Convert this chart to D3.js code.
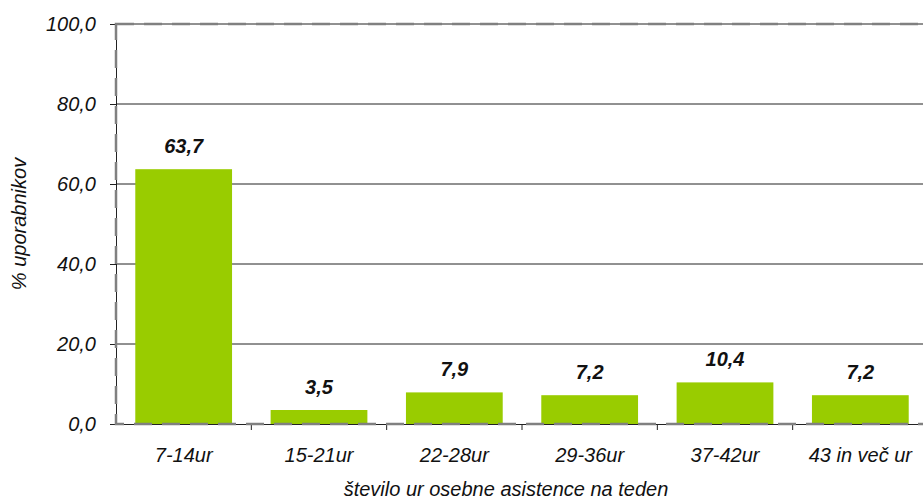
<!DOCTYPE html>
<html>
<head>
<meta charset="utf-8">
<script src="https://cdn.jsdelivr.net/npm/d3@7"></script>
<style>
  html, body { margin: 0; padding: 0; background: #fff; }
  svg { display: block; font-family: "Liberation Sans", Arial, sans-serif; }
</style>
</head>
<body>
<svg id="chart" width="923" height="502"></svg>
<script>
// Weekly hours of personal assistance, share of users (%)
const categories = ["7-14ur", "15-21ur", "22-28ur", "29-36ur", "37-42ur", "43 in več ur"];
const values = [63.7, 3.5, 7.9, 7.2, 10.4, 7.2];
const yTicks = [0, 20, 40, 60, 80, 100];
const yTitle = "% uporabnikov";
const xTitle = "število ur osebne asistence na teden";

const fmt = v => d3.format(".1f")(v).replace(".", ",");
const FS = 20;

const svg = d3.select("#chart");
const margin = { left: 116, top: 24, right: -5, bottom: 78 };
const W = 923, H = 502;
const x0 = margin.left, x1 = W - margin.right;
const y0 = H - margin.bottom, y1 = margin.top;

const x = d3.scaleBand().domain(categories).range([x0, x1]).paddingInner(0.285).paddingOuter(0.1425);
const xOuter = d3.scaleBand().domain(categories).range([x0, x1]);
const y = d3.scaleLinear().domain([0, 100]).range([y0, y1]);

// horizontal gridlines
svg.append("g")
  .selectAll("line")
  .data(yTicks.filter(t => t > 0))
  .join("line")
  .attr("x1", x0).attr("x2", x1)
  .attr("y1", d => y(d)).attr("y2", d => y(d))
  .attr("stroke", "#222").attr("stroke-width", 1);

// bars
svg.append("g")
  .selectAll("rect")
  .data(values)
  .join("rect")
  .attr("x", (d, i) => x(categories[i]))
  .attr("width", x.bandwidth())
  .attr("y", d => y(d))
  .attr("height", d => y(0) - y(d))
  .attr("fill", "#99cc00");

// y axis
const yAxis = d3.axisLeft(y).tickValues(yTicks).tickFormat(fmt).tickSize(6).tickPadding(14);
const gy = svg.append("g").attr("transform", `translate(${x0},0)`).call(yAxis);
gy.attr("font-family", null).attr("font-size", null);
gy.select(".domain").attr("stroke", "#222");
gy.selectAll(".tick line").attr("stroke", "#222");
gy.selectAll("text").attr("font-size", FS).attr("font-style", "italic").attr("fill", "#111");

// x axis
const xAxis = d3.axisBottom(xOuter).tickSize(0).tickPadding(24);
const gx = svg.append("g").attr("transform", `translate(0,${y0})`).call(xAxis);
gx.attr("font-family", null).attr("font-size", null);
gx.select(".domain").attr("stroke", "#222");
gx.selectAll("text").attr("font-size", FS).attr("font-style", "italic").attr("fill", "#111");
// tick marks between categories
svg.append("g")
  .selectAll("line")
  .data(categories.slice(1))
  .join("line")
  .attr("x1", d => xOuter(d)).attr("x2", d => xOuter(d))
  .attr("y1", y0).attr("y2", y0 + 6)
  .attr("stroke", "#222");

// dashed plot-area border
svg.append("rect")
  .attr("x", x0).attr("y", y1)
  .attr("width", x1 - x0).attr("height", y0 - y1)
  .attr("fill", "none")
  .attr("stroke", "#808080").attr("stroke-width", 2.5)
  .attr("stroke-dasharray", "18,10");

// value labels
svg.append("g")
  .selectAll("text")
  .data(values)
  .join("text")
  .attr("x", (d, i) => x(categories[i]) + x.bandwidth() / 2)
  .attr("y", d => y(d) - 16)
  .attr("text-anchor", "middle")
  .attr("font-size", FS).attr("font-weight", "bold").attr("font-style", "italic")
  .attr("fill", "#111")
  .text(fmt);

// axis titles
svg.append("text")
  .attr("transform", `translate(26,${(y0 + y1) / 2}) rotate(-90)`)
  .attr("text-anchor", "middle")
  .attr("font-size", FS).attr("font-style", "italic").attr("fill", "#111")
  .text(yTitle);

svg.append("text")
  .attr("x", 506).attr("y", 496)
  .attr("text-anchor", "middle")
  .attr("font-size", FS).attr("font-style", "italic").attr("fill", "#111")
  .text(xTitle);
</script>
</body>
</html>
